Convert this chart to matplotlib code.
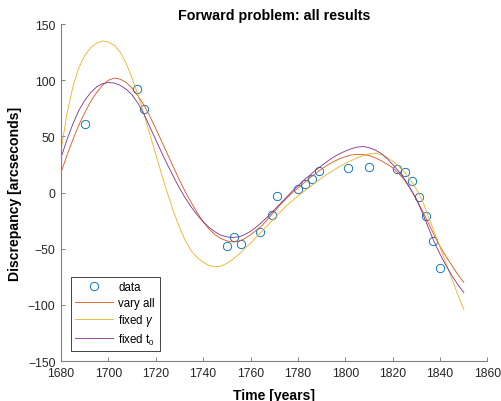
import matplotlib
matplotlib.use('Agg')
import matplotlib.pyplot as plt
import numpy as np

plt.rcParams['font.family'] = ['Liberation Sans', 'DejaVu Sans']
plt.rcParams['mathtext.fontset'] = 'custom'
plt.rcParams['mathtext.rm'] = 'Liberation Sans'
plt.rcParams['mathtext.it'] = 'Liberation Sans:italic'

# observed discrepancies
data_years = [1690, 1712, 1715, 1750, 1753, 1756, 1764, 1769, 1771, 1780, 1783,
              1786, 1789, 1801, 1810, 1822, 1825, 1828, 1831, 1834, 1837, 1840]
data_vals = [61, 92, 74, -48, -40, -46, -35, -20, -3, 3, 8,
             12, 19, 22, 23, 21, 18, 10, -4, -21, -43, -67]

model_years = np.arange(1680, 1852.5, 2.5)
vary_all = [18, 33, 47, 60, 71, 81, 89, 95.5, 100, 102, 101, 98, 93, 86, 78, 68, 57, 45.5,
            34, 22.5, 11, 0.5, -9, -18, -26, -32.5, -37.5, -41, -43, -44, -43.5, -41, -37.5,
            -33.5, -29, -23, -17, -11, -5.5, -0.5, 4, 8.5, 13, 17, 21, 24.5, 27.5, 30, 32,
            33.5, 34, 33.8, 33, 31, 28.5, 25.5, 22, 17, 11, 3, -6, -16, -27, -38, -48, -57,
            -65, -73, -80]
fixed_gamma = [37, 70, 94, 111, 122, 129, 133, 135, 134, 131, 125, 115, 102, 87, 70, 52, 34,
               16, -1, -17, -31, -43, -52, -58, -62, -65, -66, -65.5, -63, -59.5, -55, -50,
               -45, -39.5, -34, -28.5, -23, -17.5, -12, -7.5, -3, 1, 5, 9, 13, 16.5, 20, 23,
               26, 28.5, 31, 33, 34.5, 35, 34, 31.5, 28, 23.5, 18, 11, 3, -7, -21, -35, -49,
               -63, -77, -91, -104]
fixed_t0 = [31, 47, 61, 73, 82, 89, 94, 97, 98, 97.5, 95.5, 92, 87, 79.5, 70, 58.5, 47, 35.5,
            24.5, 14, 4, -5, -13, -20, -26, -31, -35, -38, -39.5, -40, -39.5, -37.5, -34.5,
            -30.5, -26, -21, -15.5, -10, -4.5, 1, 6, 11, 15.5, 20, 24, 28, 31.5, 34.5, 37,
            39, 40.5, 41, 40, 38, 35, 30.5, 25, 19, 12, 3.5, -6, -18, -31, -44, -55, -65,
            -74, -82, -89]

fig = plt.figure(figsize=(5.02, 4.02), dpi=100)
ax = fig.add_axes([0.1215, 0.0995, 0.8496, 0.838])

ax.plot(data_years, data_vals, 'o', mfc='none', mec='#0072BD', ms=6, mew=0.65, label='data')
ax.plot(model_years, vary_all, color='#D95319', lw=0.6, label='vary all')
ax.plot(model_years, fixed_gamma, color='#EDB120', lw=0.6, label=r'fixed $\gamma$')
ax.plot(model_years, fixed_t0, color='#7E2F8E', lw=0.6, label=r'fixed t$_0$')

ax.set_xlim(1680, 1860)
ax.set_ylim(-150, 150)
ax.set_xticks(range(1680, 1861, 20))
ax.set_yticks(range(-150, 151, 50))
for s in ['top', 'right']:
    ax.spines[s].set_visible(False)
for s in ['left', 'bottom']:
    ax.spines[s].set_color('#808080')
    ax.spines[s].set_linewidth(0.8)
ax.tick_params(direction='in', length=3, width=0.7, color='#808080',
               labelsize=8.8, labelcolor='#262626', pad=4)

ax.set_title('Forward problem: all results', fontsize=10.3, fontweight='bold', pad=4)
ax.set_xlabel('Time [years]', fontsize=10.1, fontweight='bold', labelpad=7)
ax.set_ylabel('Discrepancy [arcseconds]', fontsize=10.1, fontweight='bold', labelpad=4)

leg = ax.legend(loc='lower left', fontsize=8.3, fancybox=False, framealpha=1,
                edgecolor='#262626', handlelength=3.3, labelspacing=0.3,
                borderaxespad=0.85, borderpad=0.4, handletextpad=0.4)
leg.get_frame().set_linewidth(0.6)

fig.savefig('out.png', dpi=100)
